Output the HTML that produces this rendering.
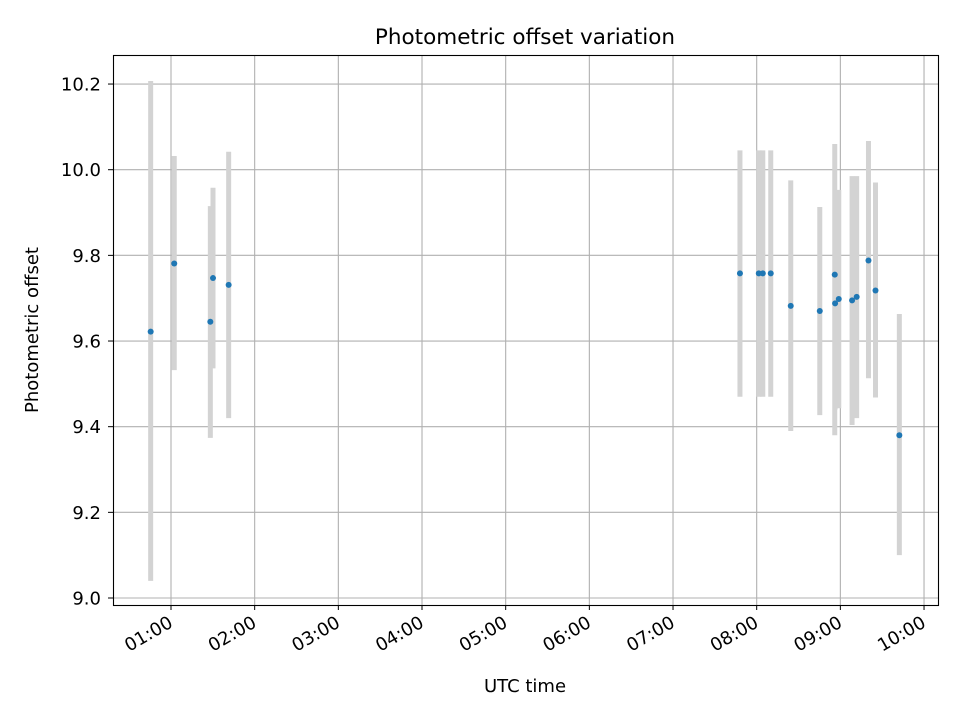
<!DOCTYPE html>
<html><head><meta charset="utf-8"><style>
body{margin:0;background:#fff;font-family:"DejaVu Sans","Liberation Sans",sans-serif}
svg text{font-family:"DejaVu Sans","Liberation Sans",sans-serif}
</style></head><body>
<svg id="chart" width="960" height="720" xmlns="http://www.w3.org/2000/svg">
<rect width="960" height="720" fill="#fff"/>
<g id="grid"></g>
<g id="errs"></g>
<g id="pts"></g>
<rect x="113.5" y="55.5" width="825" height="550" fill="none" stroke="#000" stroke-width="1.1"/>
<g id="axes"></g>
<text x="525" y="44" text-anchor="middle" font-size="21.5">Photometric offset variation</text>
<text x="525" y="692" text-anchor="middle" font-size="18">UTC time</text>
<text transform="translate(38,330) rotate(-90)" text-anchor="middle" font-size="18">Photometric offset</text>
</svg>
<script>
const hours=[0.757,1.039,1.47,1.502,1.689,7.80,8.025,8.073,8.168,8.407,8.754,8.933,8.937,8.981,9.14,9.195,9.336,9.42,9.705];
const values=[9.622,9.781,9.645,9.747,9.731,9.758,9.758,9.758,9.758,9.682,9.67,9.755,9.688,9.698,9.695,9.703,9.788,9.718,9.38];
const lows=[9.04,9.532,9.374,9.536,9.42,9.47,9.47,9.47,9.47,9.39,9.427,9.38,9.44,9.443,9.404,9.42,9.513,9.468,9.1];
const highs=[10.207,10.032,9.915,9.958,10.042,10.045,10.045,10.045,10.045,9.975,9.913,10.06,9.95,9.953,9.985,9.985,10.067,9.97,9.663];
const xTicks=[1,2,3,4,5,6,7,8,9,10];
const xTickLabels=["01:00","02:00","03:00","04:00","05:00","06:00","07:00","08:00","09:00","10:00"];
const yTicks=[9.0,9.2,9.4,9.6,9.8,10.0,10.2];
const yTickLabels=["9.0","9.2","9.4","9.6","9.8","10.0","10.2"];
const X=h=>171+(h-1)*83.67;
const Y=v=>598-(v-9.0)*428.3;
const NS="http://www.w3.org/2000/svg";
function mk(tag,attrs,parent){const e=document.createElementNS(NS,tag);for(const k in attrs)e.setAttribute(k,attrs[k]);parent.appendChild(e);return e;}
const grid=document.getElementById('grid'),axes=document.getElementById('axes'),errs=document.getElementById('errs'),pts=document.getElementById('pts');
xTicks.forEach((h,i)=>{const x=X(h);
 const g=mk('line',{x1:x,x2:x,y1:55,y2:605,stroke:'#b0b0b0','stroke-width':1.1},grid);
 
 const t=mk('line',{x1:x,x2:x,y1:605,y2:610,stroke:'#000','stroke-width':1},axes);
 
 const l=mk('text',{x:x+3,y:626,'font-size':18,'text-anchor':'end',transform:`rotate(-30 ${x+3} 626)`},axes);
 l.textContent=xTickLabels[i];
 
});
yTicks.forEach((v,i)=>{const y=Y(v);
 const g=mk('line',{x1:113,x2:938,y1:y,y2:y,stroke:'#b0b0b0','stroke-width':1.1},grid);
 
 const t=mk('line',{x1:108,x2:113,y1:y,y2:y,stroke:'#000','stroke-width':1},axes);
 
 const l=mk('text',{x:101,y:y+6.5,'font-size':18,'text-anchor':'end'},axes);
 l.textContent=yTickLabels[i];
 
});
hours.forEach((h,i)=>{const x=X(h);
 const e=mk('line',{x1:x,x2:x,y1:Y(lows[i]),y2:Y(highs[i]),stroke:'#d3d3d3','stroke-width':5},errs);
 
 const c=mk('circle',{cx:x,cy:Y(values[i]),r:3,fill:'#1f77b4'},pts);
 
});
</script>
</body></html>
